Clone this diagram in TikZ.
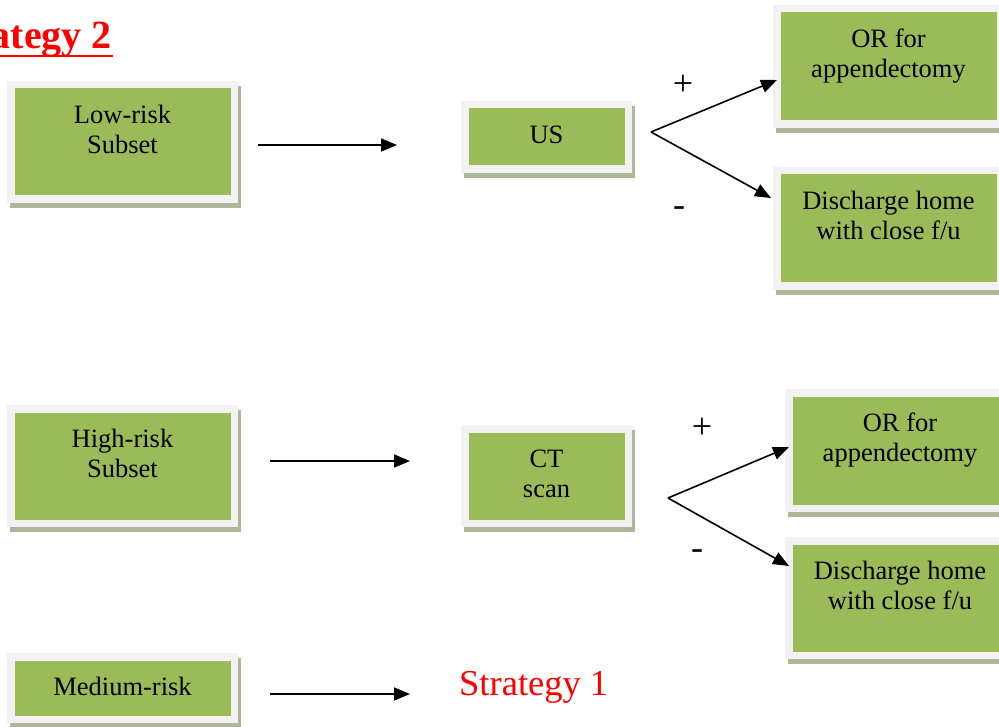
\documentclass[tikz,border=0pt]{standalone}
\usepackage{fontspec}
\setmainfont{Liberation Serif}
\usetikzlibrary{arrows.meta}
\definecolor{greenc}{HTML}{9BBB59}
\definecolor{framec}{HTML}{F2F2F2}
\definecolor{shadowc}{RGB}{172,182,152}
\definecolor{redc}{HTML}{FF0000}
\tikzset{
  gbox/.style={fill=greenc, draw=framec, line width=7.5pt, inner sep=0pt, rectangle},
  lbl/.style={font=\fontsize{26.5}{30.5}\selectfont, align=center, inner sep=0pt, text=black},
  sign/.style={font=\fontsize{36}{40}\selectfont, inner sep=0pt},
  arr/.style={line width=1.6pt, -{Triangle[length=16pt,width=13pt]}},
}
% name, left, top, right, bottom (outer frame, px), text
\newcommand\greenbox[6]{%
  \fill[shadowc] ({#2+3},{#3+5}) rectangle ({#4+3},{#5+5});
  \node[gbox, minimum width={#4pt-#2pt-7.5pt}, minimum height={#5pt-#3pt-7.5pt}]
    (#1) at ({(#2+#4)/2},{(#3+#5)/2}) {};
  \node[lbl, anchor=north] (#1-t) at ([yshift=-20.65pt]#1.north) {\strut #6};
}
\begin{document}
\begin{tikzpicture}[x=1pt,y=-1pt]
\useasboundingbox (0,0) rectangle (999,727);

% title
\node[anchor=base east, inner sep=0pt, text=redc, font=\fontsize{40}{46}\selectfont\bfseries] (s2) at (112,49) {Strategy 2};
\draw[redc, line width=2.6pt] ([yshift=-7pt]s2.base west) -- ([yshift=-7pt,xshift=1pt]s2.base east);

% boxes
\greenbox{low}{7}{81}{238}{203}{Low-risk\\Subset}
\greenbox{us}{461}{101}{632}{173}{US}
\greenbox{or1}{773}{5}{1004}{128}{OR for\\appendectomy}
\greenbox{dis1}{773}{167}{1004}{290}{Discharge home\\with close f/u}
\greenbox{high}{7}{405}{238}{527}{High-risk\\Subset}
\greenbox{ct}{461}{425}{632}{527}{CT\\scan}
\greenbox{or2}{785}{389}{1015}{512}{OR for\\appendectomy}
\greenbox{dis2}{785}{537}{1015}{659}{Discharge home\\with close f/u}
\greenbox{med}{7}{653}{238}{723}{Medium-risk}

\node[anchor=base west, inner sep=0pt, text=redc, font=\fontsize{36.5}{42}\selectfont] (s1) at (459,695) {Strategy 1};

% horizontal arrows
\coordinate (a1s) at (258,145); \coordinate (a1e) at (397,145);
\coordinate (a2s) at (270,461); \coordinate (a2e) at (410,461);
\coordinate (a3s) at (270,694); \coordinate (a3e) at (410,694);
\draw[arr] (a1s) -- (a1e);
\draw[arr] (a2s) -- (a2e);
\draw[arr] (a3s) -- (a3e);

% forks
\coordinate (f1) at (651,132);
\coordinate (f1p) at (777,80);
\coordinate (f1m) at (771,198);
\draw[arr] (f1) -- (f1p);
\draw[arr] (f1) -- (f1m);
\node[sign] (p1) at (683,85) {+};
\node[sign] (m1) at (679,212) {-};

\coordinate (f2) at (668,498);
\coordinate (f2p) at (789,447);
\coordinate (f2m) at (789,566);
\draw[arr] (f2) -- (f2p);
\draw[arr] (f2) -- (f2m);
\node[sign] (p2) at (702,428) {+};
\node[sign] (m2) at (697,555) {-};
\end{tikzpicture}
\end{document}
